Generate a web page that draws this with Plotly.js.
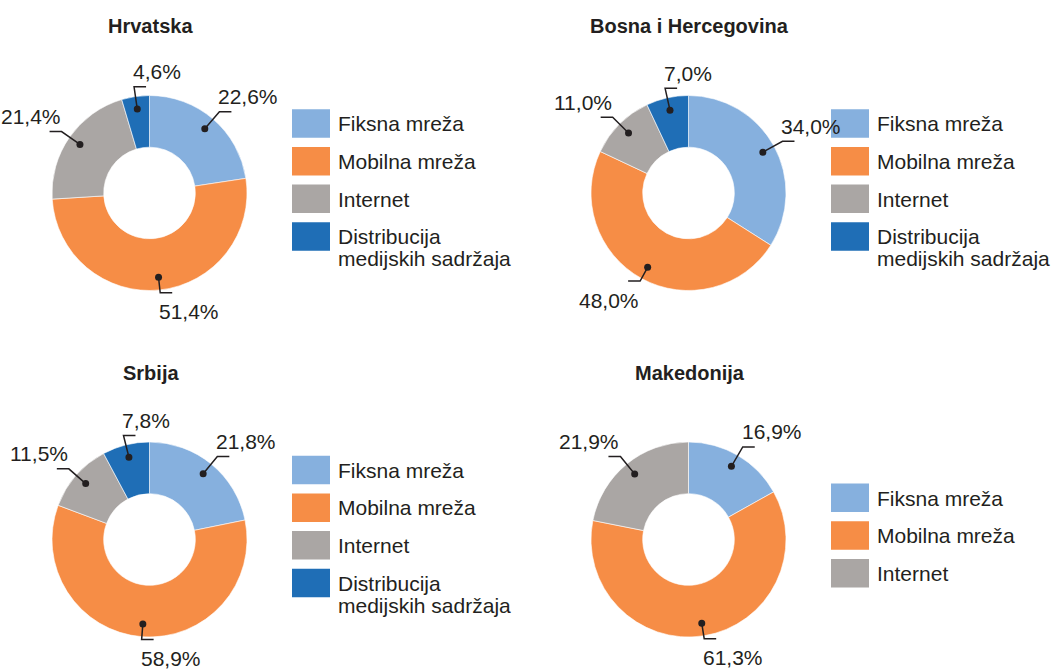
<!DOCTYPE html>
<html>
<head>
<meta charset="utf-8">
<script src="https://cdn.plot.ly/plotly-3.0.1.min.js"></script>
<style>
html,body{margin:0;padding:0;background:#ffffff;}
#chart{width:1061px;height:672px;}
</style>
</head>
<body>
<div id="chart"></div>
<script>
// ---- data ----
const categories = ["Fiksna mreža", "Mobilna mreža", "Internet", "Distribucija medijskih sadržaja"];
const countries = ["Hrvatska", "Bosna i Hercegovina", "Srbija", "Makedonija"];
const hrvatskaValues = [22.6, 51.4, 21.4, 4.6];
const bihValues = [34.0, 48.0, 11.0, 7.0];
const srbijaValues = [21.8, 58.9, 11.5, 7.8];
const makedonijaValues = [16.9, 61.3, 21.9];

// ---- styling / layout ----
const colors = ["#86b0de", "#f68d46", "#aaa6a4", "#1f6eb6"];
const W = 1061, H = 672, R = 97.5, HOLE = 0.47;
const centers = [[149.5, 193], [688.5, 193], [149.5, 539.5], [688.5, 539.5]];
const seriesList = [hrvatskaValues, bihValues, srbijaValues, makedonijaValues];
const ink = "#231f20";
const FONT = '"Liberation Sans", Arial, sans-serif';
const px = x => x / W, py = y => 1 - y / H;

const traces = [], shapes = [], annotations = [];

function wrapLabel(t) {
  if (t.length <= 16) return [t];
  const i = t.indexOf(" ");
  return [t.slice(0, i), t.slice(i + 1)];
}

seriesList.forEach((vals, i) => {
  const [cx, cy] = centers[i];
  const n = vals.length;
  traces.push({
    type: "pie",
    labels: categories.slice(0, n),
    values: vals,
    sort: false,
    direction: "clockwise",
    rotation: 0,
    hole: HOLE,
    marker: {colors: colors.slice(0, n), line: {color: "#ffffff", width: 0.6}},
    textinfo: "none",
    showlegend: false,
    hoverinfo: "label+value",
    domain: {x: [px(cx - R), px(cx + R)], y: [py(cy + R), py(cy - R)]}
  });

  // panel title
  annotations.push({
    text: "<b>" + countries[i] + "</b>", xref: "paper", yref: "paper",
    x: px(cx + 1), y: py(cy - 167), xanchor: "center", yanchor: "middle",
    showarrow: false, font: {family: FONT, size: 20, color: ink}
  });

  // value labels with leader lines (placed at each slice's mid-angle)
  const total = vals.reduce((a, b) => a + b, 0);
  let cum = 0;
  vals.forEach((v, j) => {
    const mid = (cum + v / 2) / total * 2 * Math.PI;
    cum += v;
    const s = Math.sin(mid), c = Math.cos(mid);
    const above = c > 0;
    const er = above ? 1.1 : 1.03;
    const dx = cx + 0.87 * R * s, dy = cy - 0.87 * R * c;
    const ex = cx + er * R * s, ey = cy - er * R * c;
    const right = s > -0.4;
    const hx = ex + (right ? 12 : -12);
    shapes.push({
      type: "path", xref: "paper", yref: "paper",
      path: `M${px(dx)},${py(dy)}L${px(ex)},${py(ey)}L${px(hx)},${py(ey)}`,
      line: {color: ink, width: 1.5}
    });
    shapes.push({
      type: "circle", xref: "paper", yref: "paper",
      x0: px(dx - 3.5), x1: px(dx + 3.5), y0: py(dy + 3.5), y1: py(dy - 3.5),
      fillcolor: ink, line: {width: 0}
    });
    annotations.push({
      text: v.toFixed(1).replace(".", ",") + "%", xref: "paper", yref: "paper",
      x: px(right ? ex - 3 : ex + 1), xanchor: right ? "left" : "right",
      y: py(above ? ey - 15 : ey + 19), yanchor: "middle",
      showarrow: false, font: {family: FONT, size: 21, color: ink}
    });
  });

  // legend
  const wrapped = categories.slice(0, n).map(wrapLabel);
  const extra = wrapped.reduce((a, w) => a + (w.length - 1), 0);
  const blockH = (n - 1) * 37.7 + 28.5 + extra * 18;
  const top = cy - 4 - blockH / 2;
  wrapped.forEach((lines, j) => {
    const sy = top + j * 37.7;
    shapes.push({
      type: "rect", xref: "paper", yref: "paper",
      x0: px(cx + 142.5), x1: px(cx + 180.5), y0: py(sy + 28.5), y1: py(sy),
      fillcolor: colors[j], line: {width: 0}
    });
    lines.forEach((ln, k) => {
      annotations.push({
        text: ln, xref: "paper", yref: "paper",
        x: px(cx + 186), y: py(sy + 14.5 + k * 22), xanchor: "left", yanchor: "middle",
        showarrow: false, font: {family: FONT, size: 21, color: ink}
      });
    });
  });
});

const layout = {
  width: W, height: H,
  margin: {l: 0, r: 0, t: 0, b: 0},
  paper_bgcolor: "#ffffff",
  showlegend: false,
  shapes: shapes,
  annotations: annotations
};

Plotly.newPlot("chart", traces, layout, {displayModeBar: false, staticPlot: true});
</script>
</body>
</html>
